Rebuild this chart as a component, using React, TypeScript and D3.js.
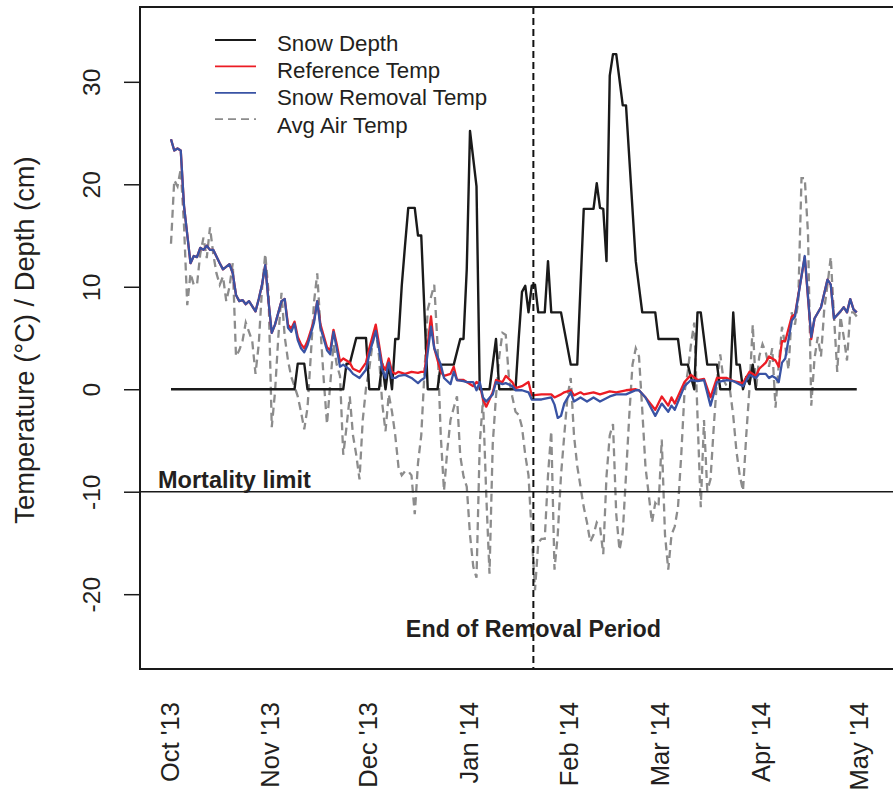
import { useEffect, useRef } from 'react';
import * as d3 from 'd3';

const WIDTH = 893;
const HEIGHT = 792;

// Season: days counted from 1 Oct 2013
const SEASON_START = new Date(Date.UTC(2013, 9, 1));
const SEASON_END = new Date(Date.UTC(2014, 4, 1));
const REMOVAL_END = new Date(Date.UTC(2014, 0, 20, 12));
const MORTALITY_LIMIT = -10;

const monthTicks = ['2013-10-01', '2013-11-01', '2013-12-01', '2014-01-01', '2014-02-01', '2014-03-01', '2014-04-01', '2014-05-01'];
const monthLabels = ["Oct '13", "Nov '13", "Dec '13", "Jan '14", "Feb '14", "Mar '14", "Apr '14", "May '14"];
const yTicks = [-20, -10, 0, 10, 20, 30];

const legendLabels = ['Snow Depth', 'Reference Temp', 'Snow Removal Temp', 'Avg Air Temp'];

// Snow depth (cm)
const snowDays = [0, 38, 39, 41, 42, 53, 54, 55, 57, 60, 61, 64, 65, 66, 67, 68, 69, 70, 71, 72, 73, 75, 76, 77, 79, 82, 83, 87, 89, 90, 91, 92, 93, 94, 95, 98, 100, 101, 106, 107, 108, 109, 110, 111, 112, 113, 115, 116, 117, 120, 123, 125, 127, 130, 131, 132, 133, 134, 135, 136, 137, 139, 140, 143, 145, 149, 150, 156, 157, 159, 161, 162, 163, 165, 168, 169, 172, 173, 174, 175, 176, 177, 178, 179, 180, 211];
const snowDepth = [0, 0, 2.5, 2.5, 0, 0, 2.5, 2.5, 5, 5, 0, 0, 2.5, 0, 2.5, 0, 4.9, 4.9, 10.1, 14, 17.7, 17.7, 15, 15, 0, 0, 2.4, 2.4, 4.9, 4.9, 11.7, 25.2, 22.5, 19.8, 0, 0, 4.9, 0, 0, 5, 9.5, 10.1, 7.5, 10.1, 10.2, 7.5, 7.5, 12.5, 7.5, 7.5, 2.4, 2.4, 17.6, 17.6, 20.1, 17.7, 17.6, 12.5, 30.6, 32.7, 32.7, 27.7, 27.7, 12.5, 7.5, 7.5, 4.9, 4.9, 2.4, 2.4, 0, 7.5, 7.5, 2.4, 2.4, 0, 0, 7.5, 2.4, 2.4, 0, 1.2, 0.5, 2.4, 0, 0];

// Reference plot soil temperature (°C)
const refDays = [0, 1, 2, 3, 4, 6, 7, 8, 9, 10, 11, 12, 13, 15, 16, 18, 19, 20, 21, 22, 23, 24, 26, 27, 28, 29, 30, 31, 32, 34, 35, 36, 37, 38, 39, 40, 41, 42, 44, 45, 46, 48, 49, 50, 51, 52, 53, 55, 56, 58, 60, 61, 63, 64, 65, 66, 67, 68, 69, 70, 72, 74, 76, 77, 78, 80, 81, 83, 84, 86, 87, 88, 90, 91, 93, 94, 95, 96, 97, 99, 100, 102, 103, 105, 106, 108, 110, 111, 114, 117, 118, 120, 121, 123, 124, 126, 127, 130, 132, 135, 137, 140, 143, 144, 146, 149, 151, 153, 154, 155, 158, 160, 162, 164, 166, 168, 171, 173, 176, 178, 180, 181, 183, 184, 185, 186, 187, 188, 189, 191, 192, 195, 197, 198, 200, 202, 203, 204, 206, 207, 208, 209, 210, 211];
const refTemp = [24.4, 23.3, 23.5, 23.3, 17.9, 12.3, 13.0, 12.9, 13.8, 13.6, 14.0, 13.6, 13.6, 12.3, 11.7, 12.2, 11.3, 9.2, 8.6, 8.7, 8.3, 8.6, 7.6, 8.8, 10.2, 12.1, 8.6, 5.5, 6.3, 8.6, 8.8, 6.3, 5.9, 6.6, 5.1, 4.4, 4.0, 4.7, 6.7, 8.6, 6.3, 4.1, 3.8, 5.8, 4.4, 2.7, 3.0, 2.6, 2.0, 1.7, 2.6, 4.0, 6.3, 4.4, 2.4, 1.9, 3.0, 1.7, 1.5, 1.7, 1.5, 1.7, 1.6, 1.7, 1.7, 7.1, 4.0, 1.7, 1.3, 1.5, 2.2, 0.9, 0.9, 0.7, 0.3, 0.7, 0.5, -1.0, -1.7, -0.3, 0.9, 0.7, 1.3, 0.7, 0.1, 0.3, 0.7, -0.6, -0.5, -0.5, -0.8, -0.5, -0.3, -0.1, -0.6, -0.3, -0.5, -0.3, -0.5, -0.2, -0.3, -0.1, 0.0, -0.1, -0.8, -2.0, -0.7, -1.6, -0.8, -1.4, 0.7, 1.4, 0.9, 1.0, -0.8, 1.1, 1.1, 0.8, 0.6, 1.7, 1.3, 2.0, 2.6, 3.2, 3.0, 2.8, 2.2, 4.7, 4.7, 7.1, 7.3, 12.9, 4.9, 6.9, 8.0, 10.7, 10.2, 6.9, 7.6, 8.0, 7.5, 8.8, 7.8, 7.5];

// Snow removal plot soil temperature (°C)
const remDays = [0, 1, 2, 3, 4, 6, 7, 8, 9, 10, 11, 12, 13, 15, 16, 18, 19, 20, 21, 22, 23, 24, 26, 27, 28, 29, 30, 31, 32, 34, 35, 36, 37, 38, 39, 40, 41, 42, 44, 45, 46, 48, 49, 50, 51, 52, 53, 55, 56, 58, 60, 61, 63, 64, 65, 66, 67, 68, 69, 70, 72, 74, 76, 77, 78, 80, 81, 83, 84, 86, 87, 88, 90, 91, 93, 94, 95, 96, 97, 99, 100, 102, 103, 105, 106, 108, 110, 111, 114, 117, 118, 119, 120, 121, 123, 124, 126, 128, 130, 132, 135, 137, 140, 143, 144, 146, 149, 151, 153, 154, 155, 158, 160, 162, 164, 166, 168, 171, 173, 176, 178, 180, 181, 183, 184, 185, 186, 187, 188, 189, 191, 192, 195, 197, 198, 200, 202, 203, 204, 206, 207, 208, 209, 210, 211];
const remTemp = [24.4, 23.3, 23.5, 23.3, 17.9, 12.3, 13.0, 12.9, 13.8, 13.6, 14.0, 13.6, 13.6, 12.3, 11.7, 12.2, 11.3, 9.2, 8.6, 8.7, 8.3, 8.6, 7.6, 8.8, 10.2, 12.1, 8.6, 5.5, 6.3, 8.6, 8.8, 6.0, 5.6, 6.4, 4.8, 4.0, 3.6, 4.3, 6.5, 8.6, 6.0, 3.8, 3.4, 5.6, 4.0, 2.2, 2.4, 1.9, 1.5, 1.1, 1.9, 3.4, 5.7, 4.0, 1.9, 1.1, 2.6, 1.1, 1.1, 1.3, 1.4, 1.1, 0.6, 0.9, 1.1, 6.1, 4.0, 2.4, 1.1, 0.5, 1.7, 0.9, 0.8, 0.7, 0.7, -0.1, 0.7, -0.8, -1.2, -0.5, 0.7, 0.5, 0.6, 0.3, -0.1, -0.1, -0.3, -1.0, -1.0, -0.8, -1.5, -2.8, -2.6, -1.4, -0.3, -1.2, -0.8, -1.2, -0.8, -1.2, -0.7, -0.5, -0.5, -0.1, -0.1, -0.8, -2.6, -1.4, -2.2, -1.6, -2.0, 0.3, 0.9, 0.8, 0.9, -1.6, 0.7, 0.9, 0.8, 0.3, 1.4, 1.1, 1.5, 1.5, 1.1, 1.3, 1.1, 0.7, 2.6, 3.0, 6.7, 7.1, 13.0, 5.1, 6.9, 8.0, 10.7, 10.2, 6.9, 7.6, 8.0, 7.5, 8.8, 7.8, 7.5];

// Daily average air temperature (°C), one value per day from 1 Oct 2013
const airTemp = [14.2, 20.4, 19.8, 21.5, 16.0, 8.2, 11.3, 10.2, 10.2, 13.2, 14.8, 12.8, 15.8, 13.2, 11.3, 10.2, 11.0, 8.6, 10.0, 12.3, 3.2, 3.8, 4.7, 6.5, 5.6, 4.7, 1.5, 4.4, 9.8, 13.2, 9.5, -3.7, -0.3, 5.0, 9.4, 5.1, 2.8, 1.2, 0.3, -0.7, -2.2, -3.9, -1.8, 3.2, 8.5, 11.3, 5.9, 0.9, -3.4, 0.5, 4.4, 2.4, 1.3, -6.4, -3.7, -0.7, -4.5, -6.4, -8.8, -3.0, 0.1, 2.0, 4.4, 5.9, 3.2, -1.4, -4.1, -0.5, -2.2, -4.5, -7.6, -8.4, -8.0, -8.0, -8.4, -12.2, -7.2, -4.5, 1.7, 7.8, 9.0, 10.2, 4.4, -4.5, -9.9, -6.0, -3.0, -1.8, -0.7, -6.5, -8.5, -9.5, -14.2, -17.3, -18.4, -5.3, -1.0, -10.3, -18.0, -5.3, -0.7, 3.2, 5.5, 5.3, 1.0, -0.7, -2.2, -2.5, -3.7, -6.4, -8.4, -14.2, -19.6, -15.0, -14.6, -14.6, -8.4, -4.1, -17.6, -14.2, -8.4, -4.5, -0.7, 1.1, -4.5, -7.5, -9.5, -11.5, -13.0, -14.9, -14.2, -13.0, -13.4, -16.1, -8.5, -4.5, -3.4, -12.2, -15.7, -14.0, -8.4, -2.6, 2.4, 4.0, 3.2, -2.0, -7.6, -10.3, -13.0, -11.1, -11.5, -4.9, -14.2, -17.6, -14.2, -13.4, -11.5, -6.4, -0.3, 1.7, 4.4, 6.5, -2.6, -11.5, -3.0, -9.9, -8.8, -3.7, 0.9, 3.4, 0.9, 0.3, -0.1, -2.6, -6.1, -8.4, -9.9, -4.5, 0.1, 6.3, -0.1, 3.2, 4.4, 3.6, 2.2, 4.0, -1.8, 2.4, 6.1, 4.2, 1.9, 7.5, 6.3, 8.6, 20.6, 20.6, 15.2, -1.6, 3.0, 5.1, 3.2, 7.8, 10.2, 12.9, 7.1, 1.7, 7.1, 5.1, 2.8, 7.5, 7.5, 7.1];

const FONT = "'Liberation Sans', Arial, Helvetica, sans-serif";
const TEXT_COLOR = '#231f20';

const SERIES = [
  { label: legendLabels[0], color: '#1a1a1a', width: 2.4, dash: null as string | null },
  { label: legendLabels[1], color: '#ec1c24', width: 2.3, dash: null as string | null },
  { label: legendLabels[2], color: '#3953a4', width: 2.3, dash: null as string | null },
  { label: legendLabels[3], color: '#8c8c8c', width: 2.3, dash: '8,5' },
];

type Pt = { date: Date; value: number };

const toPoints = (days: number[], values: number[]): Pt[] =>
  days.map((d, i) => ({ date: d3.utcDay.offset(SEASON_START, d), value: values[i] }));

export default function App() {
  const svgRef = useRef<SVGSVGElement>(null);

  useEffect(() => {
    if (!svgRef.current) return;
    const svg = d3.select(svgRef.current);
    svg.selectAll('*').remove();

    const plot = { left: 140, right: 900, top: 7, bottom: 669 };

    const x = d3.scaleUtc().domain([SEASON_START, SEASON_END]).range([171, 860]);
    const y = d3.scaleLinear().domain([-27.3, 37.3]).range([plot.bottom, plot.top]);

    const line = d3
      .line<Pt>()
      .x((d) => x(d.date))
      .y((d) => y(d.value));

    const air = toPoints(airTemp.map((_, i) => i), airTemp);
    const snow = toPoints(snowDays, snowDepth);
    const ref = toPoints(refDays, refTemp);
    const rem = toPoints(remDays, remTemp);

    const g = svg.append('g');

    // Air temperature (dashed grey)
    g.append('path')
      .datum(air)
      .attr('d', line)
      .attr('fill', 'none')
      .attr('stroke', SERIES[3].color)
      .attr('stroke-width', SERIES[3].width)
      .attr('stroke-dasharray', SERIES[3].dash as string);

    // Snow depth
    g.append('path')
      .datum(snow)
      .attr('d', line)
      .attr('fill', 'none')
      .attr('stroke', SERIES[0].color)
      .attr('stroke-width', SERIES[0].width)
      .attr('stroke-linejoin', 'round');

    // Reference temp
    g.append('path')
      .datum(ref)
      .attr('d', line)
      .attr('fill', 'none')
      .attr('stroke', SERIES[1].color)
      .attr('stroke-width', SERIES[1].width)
      .attr('stroke-linejoin', 'round');

    // Snow removal temp
    g.append('path')
      .datum(rem)
      .attr('d', line)
      .attr('fill', 'none')
      .attr('stroke', SERIES[2].color)
      .attr('stroke-width', SERIES[2].width)
      .attr('stroke-linejoin', 'round');

    // Mortality limit
    svg.append('line')
      .attr('x1', plot.left)
      .attr('x2', plot.right)
      .attr('y1', y(MORTALITY_LIMIT))
      .attr('y2', y(MORTALITY_LIMIT))
      .attr('stroke', '#1a1a1a')
      .attr('stroke-width', 1.6);

    svg.append('text')
      .attr('x', 158)
      .attr('y', y(MORTALITY_LIMIT) - 4)
      .attr('font-family', FONT)
      .attr('font-weight', 'bold')
      .attr('font-size', '23.5px')
      .attr('fill', TEXT_COLOR)
      .text('Mortality limit');

    // End of removal period
    svg.append('line')
      .attr('x1', x(REMOVAL_END))
      .attr('x2', x(REMOVAL_END))
      .attr('y1', plot.top)
      .attr('y2', plot.bottom)
      .attr('stroke', '#111')
      .attr('stroke-width', 2)
      .attr('stroke-dasharray', '7,4');

    svg.append('text')
      .attr('x', x(REMOVAL_END))
      .attr('y', 637)
      .attr('text-anchor', 'middle')
      .attr('font-family', FONT)
      .attr('font-weight', 'bold')
      .attr('font-size', '23.3px')
      .attr('fill', TEXT_COLOR)
      .text('End of Removal Period');

    // Plot box
    svg.append('rect')
      .attr('x', plot.left)
      .attr('y', plot.top)
      .attr('width', plot.right - plot.left)
      .attr('height', plot.bottom - plot.top)
      .attr('fill', 'none')
      .attr('stroke', '#1a1a1a')
      .attr('stroke-width', 2);

    // Y axis
    svg.append('g')
      .attr('transform', `translate(${plot.left},0)`)
      .call(d3.axisLeft(y).tickValues(yTicks).tickSize(16).tickFormat((d) => `${d}`))
      .call((a) => a.select('.domain').remove())
      .call((a) => a.selectAll('.tick line').attr('stroke', '#1a1a1a').attr('stroke-width', 1.5))
      .call((a) =>
        a.selectAll('.tick text')
          .attr('x', null)
          .attr('dy', null)
          .attr('transform', 'translate(-40,0) rotate(-90)')
          .attr('text-anchor', 'middle')
          .attr('font-family', FONT)
          .attr('font-size', '24.5px')
          .attr('fill', TEXT_COLOR)
      );

    // X axis labels (no axis line)
    svg.append('g')
      .attr('transform', `translate(0,${plot.bottom})`)
      .call(
        d3.axisBottom(x)
          .tickValues(monthTicks.map((s) => new Date(s + 'T00:00:00Z')))
          .tickSize(0)
          .tickFormat((_, i) => monthLabels[i])
      )
      .call((a) => a.select('.domain').remove())
      .call((a) =>
        a.selectAll('.tick text')
          .attr('y', null)
          .attr('dy', null)
          .attr('transform', 'translate(7,33) rotate(-90)')
          .attr('text-anchor', 'end')
          .attr('font-family', FONT)
          .attr('font-size', '25.5px')
          .attr('fill', TEXT_COLOR)
      );

    // Y axis title
    svg.append('text')
      .attr('transform', 'translate(34,340) rotate(-90)')
      .attr('text-anchor', 'middle')
      .attr('font-family', FONT)
      .attr('font-size', '27.3px')
      .attr('fill', TEXT_COLOR)
      .text('Temperature (°C) / Depth (cm)');

    // Legend
    const legend = svg.append('g');
    SERIES.forEach((s, i) => {
      const ly = 40 + 26.4 * i;
      legend.append('line')
        .attr('x1', 215)
        .attr('x2', 256)
        .attr('y1', ly)
        .attr('y2', ly)
        .attr('stroke', s.color)
        .attr('stroke-width', i === 0 ? 2 : 1.8)
        .attr('stroke-dasharray', s.dash ?? null);
      legend.append('text')
        .attr('x', 277)
        .attr('y', 51 + 27.2 * i)
        .attr('font-family', FONT)
        .attr('font-size', '22.3px')
        .attr('fill', TEXT_COLOR)
        .text(s.label);
    });
  }, []);

  return (
    <svg
      ref={svgRef}
      width={WIDTH}
      height={HEIGHT}
      style={{ position: 'absolute', left: 0, top: 0, background: '#fff' }}
    />
  );
}
